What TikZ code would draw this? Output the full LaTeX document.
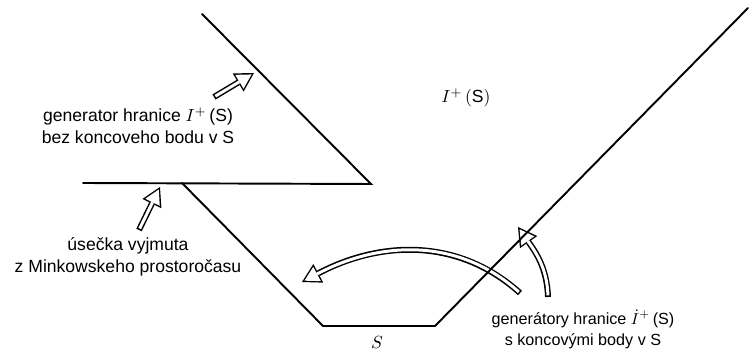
\documentclass[tikz,border=0pt]{standalone}
\usepackage{fontspec}
\setmainfont{Liberation Sans}
\usepackage{tikz}
\usetikzlibrary{arrows.meta}

\begin{document}
\begin{tikzpicture}[x=0.02cm, y=-0.02cm,
  bound/.style={line width=1.1pt, line cap=round},
  lbl/.style={font=\fontsize{10}{12.5}\selectfont, align=center, inner sep=1pt},
  hollow/.style={line width=3.4pt, -{Triangle[length=10.5pt, width=12pt, line width=0pt]},
    postaction={draw, white, line width=1.7pt, shorten <=0.9pt, shorten >=1.6pt,
      -{Triangle[length=8.1pt, width=9.2pt, line width=0pt]}}},
]
\useasboundingbox (0,0) rectangle (750,350);

% --- corner points ---
\coordinate (wtop) at (202,14);
\coordinate (wtip) at (371,184);
\coordinate (cutl) at (83,183);
\coordinate (join) at (182,183);
\coordinate (bl) at (323,326);
\coordinate (br) at (435,326);
\coordinate (tr) at (748,8);

% --- labels ---
\node[lbl] (gen) at (138,126) {generator hranice $I^{+}$\,(S)\\bez koncoveho bodu v S};
\node[lbl] (cut) at (128,257) {úsečka vyjmuta\\z Minkowskeho prostoročasu};
\node[lbl, font=\fontsize{9.2}{12}\selectfont] (gens) at (583,329) {generátory hranice $\dot{I}^{+}$\,(S)\\s koncovými body v S};
\node (future) at (466,98) {$I^{+}\,(\mathrm{S})$};
\node (sname) at (377,342) {$S$};

% --- hollow arrows ---
\coordinate (a1s) at (214,97);
\coordinate (a1e) at (254,73);
\coordinate (a2s) at (139,230);
\coordinate (a2e) at (160,187);
\coordinate (a3s) at (520,293);
\coordinate (a3e) at (302,282);
\coordinate (a4s) at (548,297);
\coordinate (a4e) at (518,227);
\draw[hollow] (a1s) -- (a1e);
\draw[hollow] (a2s) -- (a2e);
\draw[hollow] (a3s) to[out=138, in=28] (a3e);
\draw[hollow] (a4s) to[out=92, in=-55] (a4e);

% --- boundary of S and cut ---
\draw[bound] (wtop) -- (wtip) -- (cutl);
\draw[bound] (join) -- (bl) -- (br) -- (tr);
\end{tikzpicture}
\end{document}
